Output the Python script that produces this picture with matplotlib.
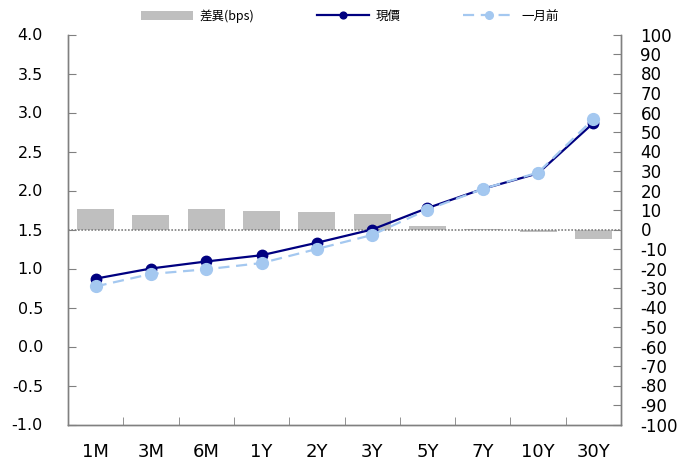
import matplotlib
matplotlib.use("Agg")
import matplotlib.pyplot as plt
import numpy as np

plt.rcParams['font.family'] = ['DejaVu Sans', 'Noto Sans CJK TC']

categories = ['1M', '3M', '6M', '1Y', '2Y', '3Y', '5Y', '7Y', '10Y', '30Y']
current = [0.87, 1.00, 1.09, 1.17, 1.33, 1.50, 1.775, 2.02, 2.22, 2.865]
month_ago = [0.77, 0.93, 0.99, 1.07, 1.25, 1.43, 1.755, 2.02, 2.23, 2.915]
diff_bps = [10.3, 7.3, 10.3, 9.7, 9.2, 7.7, 2.0, 0.2, -1.2, -5.0]

left_ticks = [-1.0, -0.5, 0.0, 0.5, 1.0, 1.5, 2.0, 2.5, 3.0, 3.5, 4.0]
right_ticks = list(range(-100, 101, 10))

fig = plt.figure(figsize=(6.97, 4.63), dpi=100)
ax1 = fig.add_axes([68/697, 1-424.5/463, (621-68)/697, (424.5-34.5)/463])
ax2 = ax1.twinx()

x = np.arange(len(categories))

bars = ax2.bar(x, diff_bps, width=0.67, color='#BFBFBF', label='差異(bps)', zorder=2)
ax2.axhline(0, color='#7F7F7F', linestyle=(0, (1, 1)), linewidth=1.2, zorder=3)

l1, = ax1.plot(x, current, color='#000080', linewidth=1.6, marker='o',
               markersize=7.5, label='現價', zorder=4)
l2, = ax1.plot(x, month_ago, color='#A4C8F0', linewidth=1.6, linestyle=(0, (5, 3)),
               marker='o', markersize=8.5, label='一月前', zorder=5)

ax1.set_zorder(ax2.get_zorder() + 1)
ax1.patch.set_visible(False)

ax1.set_xlim(-0.5, len(categories) - 0.5)
ax1.set_ylim(-1.0, 4.0)
ax2.set_ylim(-100, 100)
ax1.set_yticks(left_ticks)
ax1.set_yticklabels([f'{v:.1f}' for v in left_ticks])
ax2.set_yticks(right_ticks)
ax2.set_yticklabels([str(v) for v in right_ticks])
ax1.set_xticks(x)
ax1.set_xticklabels(categories)
ax1.set_xticks(np.arange(-0.5, len(categories)), minor=True)

for ax in (ax1, ax2):
    ax.spines['top'].set_visible(False)
    for s in ('left', 'right', 'bottom'):
        ax.spines[s].set_color('#808080')
        ax.spines[s].set_linewidth(1.0)

ax1.tick_params(axis='y', direction='in', length=6, color='#808080',
                labelsize=11.5, pad=18)
ax1.tick_params(axis='x', which='major', length=0, labelsize=13, pad=13)
ax1.tick_params(axis='x', which='minor', direction='in', length=6, color='#808080')
ax2.tick_params(axis='y', direction='in', length=6, color='#808080',
                labelsize=12, pad=14)

fig.legend(handles=[bars, l1, l2], labels=['差異(bps)', '現價', '一月前'],
           loc='center', bbox_to_anchor=(0.502, 1 - 16/463), ncol=3,
           frameon=False, handlelength=4.2, handletextpad=0.5,
           columnspacing=5.0, markerscale=0.65,
           prop={'family': ['Noto Sans CJK TC', 'DejaVu Sans'], 'size': 9})

fig.savefig('out.png', dpi=100)
